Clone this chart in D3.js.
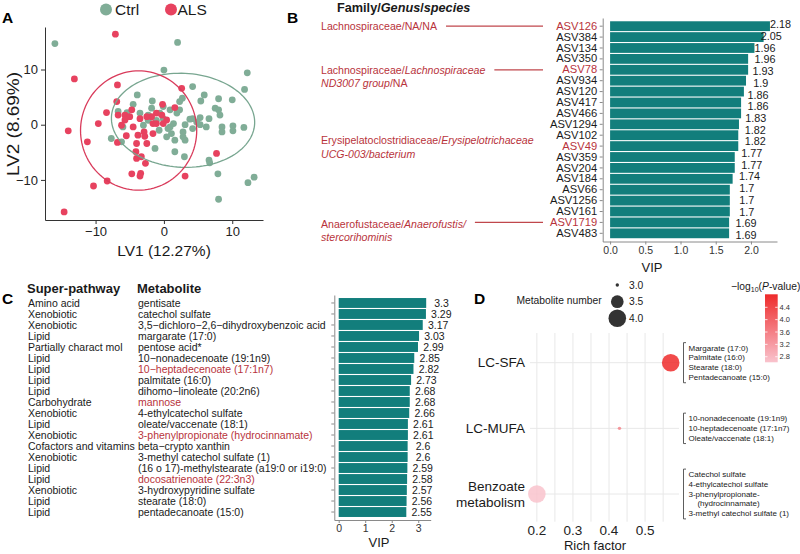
<!DOCTYPE html>
<html>
<head>
<meta charset="utf-8">
<script src="https://cdn.jsdelivr.net/npm/d3@7/dist/d3.min.js"></script>
<style>
html,body{margin:0;padding:0;background:#fff;}
svg{display:block;font-family:"Liberation Sans",Arial,Helvetica,sans-serif;}
</style>
</head>
<body>
<svg id="fig" width="800" height="554"></svg>
<script>
// ================= DATA =================
// Panel A: PLS-DA scores
const ctrlLV1 = [-15.95, 2.0, 0.0, 12.2, 11.8, 4.2, 5.9, -3.9, 2.7, 2.3, 8.0, 10.0, -1.7, 7.5, 8.0, 8.2, 6.6, 5.3, 10.1, 10.1, 8.5, 8.5, 11.7, 6.2, 5.3, 4.2, 4.2, 2.8, 2.8, 3.1, 1.6, 3.0, 6.6, 6.7, 7.9, 8.0, 12.3, 13.2, 0.6, 1.4, -0.6, -1.1, -1.8, -3.0, -6.0, -6.7, -7.7, -6.2, -1.3, 0.4, 1.1, -0.1, 1.9, 2.3, -3.5, -2.3, 0.9, 3.1, 3.8, 4.8, 1.6, -0.7, -0.1, 0.9, -2.3, -4.5, -5.4, 5.4];
const ctrlLV2 = [14.7, 14.9, 9.9, 9.4, 6.4, 6.9, 5.4, 5.4, 4.8, 4.2, 4.7, 4.5, 4.3, 3.0, 2.7, 1.75, 1.1, 1.3, -0.2, -1.1, -0.4, -1.3, -0.5, -0.4, 0.0, 1.1, -0.7, -1.3, -2.2, -2.8, -4.9, -5.8, -6.4, -6.9, -8.9, -13.5, -10.5, -9.5, -0.7, 0.2, 2.1, 0.8, 3.0, -0.1, -0.4, 2.4, -2.5, -3.1, -4.3, -2.2, -1.6, 1.1, 2.1, 2.7, 2.1, 0.8, -0.4, 0.0, 1.0, 0.5, -2.8, -1.0, 3.3, 2.7, 1.75, 3.7, 2.2, 4.3];
const alsLV1 = [-7.1, -13.1, -6.8, 2.6, -6.9, -8.4, -6.7, -5.7, -5.0, -5.7, -9.6, -14.0, -11.2, -6.8, -5.5, -3.8, -2.9, -2.8, -1.6, -2.5, -4.0, -4.1, -3.3, -2.7, -4.0, -4.7, -3.4, -3.5, -8.3, -10.3, -14.6, 3.1, 7.7, -0.2, 1.6, -1.1, -0.3, 0.4, -0.1, -1.8, -1.6, -2.5, -3.5, -4.7, -4.5, -6.2, -1.1];
const alsLV2 = [16.4, 8.3, 7.2, 6.6, 4.2, 2.2, 1.75, 1.75, 1.45, 0.85, 0.2, -1.1, -3.1, -3.2, -2.0, -1.9, -1.3, -2.1, -1.6, -3.4, -3.4, -4.9, -5.8, -7.0, -6.1, -8.9, -8.8, -9.3, -10.2, -11.1, -15.8, -9.3, -5.2, 3.7, 3.1, 2.1, 1.75, 0.85, 0.2, 1.45, 0.2, 1.45, 1.1, 2.7, -0.4, -0.1, 0.2];
const groupNames = ["Ctrl", "ALS"];
// 95% confidence ellipses (centre, semi-axes, rotation in radians)
const ellipseCX = [2.8, -3.7];
const ellipseCY = [0.8, -1.05];
const ellipseRX = [10.5, 8.5];
const ellipseRY = [8.5, 10.8];
const ellipseAngle = [-0.1, 0.0];
const axisTicksA = [-10, 0, 10];

// Panel B: ASV VIP
const asvIds = ["ASV126","ASV384","ASV134","ASV350","ASV78","ASV934","ASV120","ASV417","ASV466","ASV1294","ASV102","ASV49","ASV359","ASV204","ASV184","ASV66","ASV1256","ASV161","ASV1719","ASV483"];
const asvVIP = [2.27, 2.18, 2.05, 1.96, 1.96, 1.93, 1.9, 1.86, 1.86, 1.83, 1.82, 1.82, 1.77, 1.77, 1.74, 1.7, 1.7, 1.7, 1.69, 1.69];
const asvValueLabels = [2.18, 2.05, 1.96, 1.96, 1.93, 1.9, 1.86, 1.86, 1.83, 1.82, 1.82, 1.77, 1.77, 1.74, 1.7, 1.7, 1.7, 1.69, 1.69];
const asvHighlighted = ["ASV126","ASV78","ASV49","ASV1719"];
const taxonAsv = ["ASV126","ASV78","ASV49","ASV1719"];
// each line: array of [text, italic]
const taxonLines = [
  [[["Lachnospiraceae/NA/NA", false]]],
  [[["Lachnospiraceae/", false], ["Lachnospiraceae", true]], [["ND3007 group", true], ["/NA", false]]],
  [[["Erysipelatoclostridiaceae/", false], ["Erysipelotrichaceae", true]], [["UCG-003/bacterium", true]]],
  [[["Anaerofustaceae/", false], ["Anaerofustis/", true]], [["stercorihominis", true]]]
];
const taxonHasLeader = [true, true, false, true];
const taxonShift = [0, 0, -6, 1.5];
const vipTicksB = [0, 0.5, 1, 1.5, 2];

// Panel C: metabolite VIP
const superPathway = ["Amino acid","Xenobiotic","Xenobiotic","Lipid","Partially charact mol","Lipid","Lipid","Lipid","Lipid","Carbohydrate","Xenobiotic","Lipid","Xenobiotic","Cofactors and vitamins","Xenobiotic","Lipid","Lipid","Xenobiotic","Lipid","Lipid"];
const metabolites = ["gentisate","catechol sulfate","3,5\u2212dichloro\u22122,6\u2212dihydroxybenzoic acid","margarate (17:0)","pentose acid*","10\u2212nonadecenoate (19:1n9)","10\u2212heptadecenoate (17:1n7)","palmitate (16:0)","dihomo\u2212linoleate (20:2n6)","mannose","4-ethylcatechol sulfate","oleate/vaccenate (18:1)","3-phenylpropionate (hydrocinnamate)","beta\u2212crypto xanthin","3-methyl catechol sulfate (1)","(16 o 17)-methylstearate (a19:0 or i19:0)","docosatrienoate (22:3n3)","3-hydroxypyridine sulfate","stearate (18:0)","pentadecanoate (15:0)"];
const metaboliteVIP = [3.3, 3.29, 3.17, 3.03, 2.99, 2.85, 2.82, 2.73, 2.68, 2.68, 2.66, 2.61, 2.61, 2.6, 2.6, 2.59, 2.58, 2.57, 2.56, 2.55];
const metaboliteHighlighted = ["10\u2212heptadecenoate (17:1n7)","mannose","3-phenylpropionate (hydrocinnamate)","docosatrienoate (22:3n3)"];
const vipTicksC = [0, 1, 2, 3];

// Panel D: enrichment
const pathways = ["LC-SFA", "LC-MUFA", "Benzoate metabolism"];
const pathwayLabelLines = [["LC-SFA"], ["LC-MUFA"], ["Benzoate", "metabolism"]];
const richFactor = [0.571, 0.429, 0.2];
const metaboliteNumber = [4, 3, 4];
const negLog10P = [4.82, 3.5, 2.62];
const pathwayMembers = [
  ["Margarate (17:0)", "Palmitate (16:0)", "Stearate (18:0)", "Pentadecanoate (15:0)"],
  ["10-nonadecenoate (19:1n9)", "10-heptadecenoate (17:1n7)", "Oleate/vaccenate (18:1)"],
  ["Catechol sulfate", "4-ethylcatechol sulfate", "3-phenylpropionate-", "    (hydrocinnamate)", "3-methyl catechol sulfate (1)"]
];
const richTicks = [0.2, 0.3, 0.4, 0.5];
const richGrid = [0.2, 0.25, 0.3, 0.35, 0.4, 0.45, 0.5, 0.55];
const sizeLegendValues = [3.0, 3.5, 4.0];
const colorLegendTicks = [2.8, 3.2, 3.6, 4.0, 4.4];

// ================= STYLE =================
const GREEN = "#80ad97", RED = "#e7425f";
const GREEN_LINE = "#78a690", RED_LINE = "#d93b5b";
const TEAL = "#127e7c";
const DARKRED = "#b8333b";
const TXT = "#1a1a1a";
const AXISGRAY = "#8a8a8a";

const svg = d3.select("#fig");

// ================= PANEL A =================
const gA = svg.append("g");
const xA = d3.scaleLinear().domain([-17.4, 14.5]).range([45, 263]);
const yA = d3.scaleLinear().domain([-17.26, 17.7]).range([220, 27]);

const ptsCtrl = ctrlLV1.map((v, i) => ({x: v, y: ctrlLV2[i]}));
const ptsAls = alsLV1.map((v, i) => ({x: v, y: alsLV2[i]}));
gA.append("g").selectAll("circle").data(ptsCtrl).join("circle")
  .attr("cx", d => xA(d.x)).attr("cy", d => yA(d.y)).attr("r", 3.4).attr("fill", GREEN);
gA.append("g").selectAll("circle").data(ptsAls).join("circle")
  .attr("cx", d => xA(d.x)).attr("cy", d => yA(d.y)).attr("r", 3.4).attr("fill", RED);

const ellLine = d3.line().x(d => xA(d[0])).y(d => yA(d[1])).curve(d3.curveLinearClosed);
groupNames.forEach((g, k) => {
  const pts = d3.range(0, 120).map(i => {
    const t = i / 120 * 2 * Math.PI, c = Math.cos(ellipseAngle[k]), s = Math.sin(ellipseAngle[k]);
    const ex = ellipseRX[k] * Math.cos(t), ey = ellipseRY[k] * Math.sin(t);
    return [ellipseCX[k] + ex * c - ey * s, ellipseCY[k] + ex * s + ey * c];
  });
  gA.append("path").attr("d", ellLine(pts)).attr("fill", "none")
    .attr("stroke", k === 0 ? GREEN_LINE : RED_LINE).attr("stroke-width", 1.3);
});

const axAx = gA.append("g").attr("transform", "translate(0,220)")
  .call(d3.axisBottom(xA).tickValues(axisTicksA).tickSize(4).tickSizeOuter(0).tickPadding(3));
const axAy = gA.append("g").attr("transform", "translate(45,0)")
  .call(d3.axisLeft(yA).tickValues(axisTicksA).tickSize(4).tickSizeOuter(0).tickPadding(3));
[axAx, axAy].forEach(a => {
  a.select(".domain").attr("stroke", "#333").attr("stroke-width", 1);
  a.selectAll(".tick line").attr("stroke", "#333");
  a.selectAll(".tick text").attr("font-size", 13).attr("fill", "#222").attr("font-family", "Liberation Sans, Arial, sans-serif");
});
gA.append("text").attr("x", 164).attr("y", 250).attr("text-anchor", "middle")
  .attr("dominant-baseline", "central").attr("font-size", 15.5).attr("fill", TXT).text("LV1 (12.27%)");
gA.append("text").attr("transform", "translate(13,124) rotate(-90)").attr("text-anchor", "middle")
  .attr("dominant-baseline", "central").attr("font-size", 16).attr("fill", TXT)
  .attr("textLength", 104).attr("lengthAdjust", "spacingAndGlyphs").text("LV2 (8.69%)");
// legend
const legA = gA.append("g");
[[106, 115], [171, 177.5]].forEach((p, k) => {
  legA.append("circle").attr("cx", p[0]).attr("cy", 9.5).attr("r", 6).attr("fill", k === 0 ? GREEN : RED);
  legA.append("text").attr("x", p[1]).attr("y", 9.5).attr("dominant-baseline", "central")
    .attr("font-size", 15.5).attr("fill", TXT).text(groupNames[k]);
});
svg.append("text").attr("x", 2).attr("y", 17).attr("dominant-baseline", "central")
  .attr("font-size", 15.5).attr("font-weight", "bold").text("A");

// ================= PANEL B =================
const gB = svg.append("g");
const xB = d3.scaleLinear().domain([-0.105, 2.37]).range([602.7, 777]);
const yB = d3.scaleBand().domain(asvIds).range([18, 241.5]).paddingInner(0.1).paddingOuter(0.3);
gB.append("g").selectAll("rect").data(asvIds).join("rect")
  .attr("x", xB(0)).attr("y", d => yB(d)).attr("height", yB.bandwidth())
  .attr("width", (d, i) => xB(asvVIP[i]) - xB(0)).attr("fill", TEAL);
const yLab = d3.scalePoint().domain(d3.range(asvValueLabels.length)).range([24.3, 235]);
gB.append("g").selectAll("text").data(asvValueLabels).join("text")
  .attr("x", d => xB(d + 0.24)).attr("y", (d, i) => yLab(i)).attr("text-anchor", "middle")
  .attr("dominant-baseline", "central").attr("font-size", 10.8).attr("fill", TXT).text(d => d);
const bAxY = gB.append("g").attr("transform", "translate(602.7,0)")
  .call(d3.axisLeft(yB).tickSize(3).tickSizeOuter(0).tickPadding(2.5));
bAxY.selectAll(".tick text").attr("font-size", 11.2).attr("font-family", "Liberation Sans, Arial, sans-serif")
  .attr("fill", d => asvHighlighted.includes(d) ? DARKRED : TXT);
const bAxX = gB.append("g").attr("transform", "translate(0,241.5)")
  .call(d3.axisBottom(xB).tickValues(vipTicksB).tickFormat(d3.format(".1f")).tickSize(3).tickSizeOuter(0).tickPadding(2));
bAxX.selectAll(".tick text").attr("font-size", 10.5).attr("font-family", "Liberation Sans, Arial, sans-serif").attr("fill", "#333");
[bAxY, bAxX].forEach(a => {
  a.select(".domain").attr("stroke", AXISGRAY);
  a.selectAll(".tick line").attr("stroke", AXISGRAY);
});
gB.append("text").attr("x", 652).attr("y", 267).attr("text-anchor", "middle").attr("dominant-baseline", "central")
  .attr("font-size", 13).attr("fill", TXT).text("VIP");
// title
const tB = gB.append("text").attr("x", 337).attr("y", 7.5).attr("dominant-baseline", "central")
  .attr("font-size", 12.7).attr("font-weight", "bold").attr("fill", TXT);
tB.append("tspan").text("Family/");
tB.append("tspan").attr("font-style", "italic").text("Genus");
tB.append("tspan").text("/");
tB.append("tspan").attr("font-style", "italic").text("species");
svg.append("text").attr("x", 287).attr("y", 17).attr("dominant-baseline", "central")
  .attr("font-size", 15.5).attr("font-weight", "bold").text("B");
// taxonomy annotations
taxonAsv.forEach((asv, k) => {
  const yc = yB(asv) + yB.bandwidth() / 2 + taxonShift[k];
  let firstNode = null;
  taxonLines[k].forEach((line, li) => {
    const t = gB.append("text").attr("x", 321).attr("y", yc + li * 13.5).attr("dominant-baseline", "central")
      .attr("font-size", 10.6).attr("fill", DARKRED);
    line.forEach(seg => t.append("tspan").attr("font-style", seg[1] ? "italic" : "normal").text(seg[0]));
    if (li === 0) firstNode = t.node();
  });
  if (taxonHasLeader[k]) {
    const ends = 321 + firstNode.getComputedTextLength();
    const ly = yB(asv) + yB.bandwidth() / 2;
    gB.append("line").attr("x1", ends + 9).attr("x2", 543).attr("y1", ly).attr("y2", ly)
      .attr("stroke", "#c0474c").attr("stroke-width", 1.2);
  }
});

// ================= PANEL C =================
const gC = svg.append("g");
const xC = d3.scaleLinear().domain([-0.166, 3.47]).range([334.3, 430.7]);
const yC = d3.scaleBand().domain(d3.range(metabolites.length)).range([295, 520]).paddingInner(0.1).paddingOuter(0.275);
gC.append("g").selectAll("rect").data(metaboliteVIP).join("rect")
  .attr("x", xC(0)).attr("y", (d, i) => yC(i)).attr("height", yC.bandwidth())
  .attr("width", d => xC(d) - xC(0)).attr("fill", TEAL);
gC.append("g").selectAll("text").data(metaboliteVIP).join("text")
  .attr("x", d => xC(d + 0.58)).attr("y", (d, i) => yC(i) + yC.bandwidth() / 2)
  .attr("text-anchor", "middle").attr("dominant-baseline", "central")
  .attr("font-size", 10.5).attr("fill", TXT).text(d => d);
gC.append("g").selectAll("text").data(superPathway).join("text")
  .attr("x", 28).attr("y", (d, i) => yC(i) + yC.bandwidth() / 2).attr("dominant-baseline", "central")
  .attr("font-size", 10.5).attr("fill", TXT).text(d => d);
gC.append("g").selectAll("text").data(metabolites).join("text")
  .attr("x", 138).attr("y", (d, i) => yC(i) + yC.bandwidth() / 2).attr("dominant-baseline", "central")
  .attr("font-size", 10.5).attr("fill", d => metaboliteHighlighted.includes(d) ? DARKRED : TXT).text(d => d);
const cAxY = gC.append("g").attr("transform", "translate(334.3,0)")
  .call(d3.axisLeft(yC).tickSize(3).tickSizeOuter(0).tickFormat(""));
const cAxX = gC.append("g").attr("transform", "translate(0,520)")
  .call(d3.axisBottom(xC).tickValues(vipTicksC).tickFormat(d3.format("d")).tickSize(3).tickSizeOuter(0).tickPadding(2));
cAxX.selectAll(".tick text").attr("font-size", 10.5).attr("font-family", "Liberation Sans, Arial, sans-serif").attr("fill", "#333");
[cAxY, cAxX].forEach(a => {
  a.select(".domain").attr("stroke", AXISGRAY);
  a.selectAll(".tick line").attr("stroke", AXISGRAY);
});
gC.append("text").attr("x", 379).attr("y", 542).attr("text-anchor", "middle").attr("dominant-baseline", "central")
  .attr("font-size", 13).attr("fill", TXT).text("VIP");
gC.append("text").attr("x", 27).attr("y", 288).attr("dominant-baseline", "central")
  .attr("font-size", 13).attr("font-weight", "bold").attr("fill", TXT).text("Super-pathway");
gC.append("text").attr("x", 137).attr("y", 288).attr("dominant-baseline", "central")
  .attr("font-size", 13).attr("font-weight", "bold").attr("fill", TXT).text("Metabolite");
svg.append("text").attr("x", 2).attr("y", 298).attr("dominant-baseline", "central")
  .attr("font-size", 15.5).attr("font-weight", "bold").text("C");

// ================= PANEL D =================
const gD = svg.append("g");
const xD = d3.scaleLinear().domain([0.181, 0.594]).range([530, 679]);
const yD = d3.scalePoint().domain(pathways).range([362.7, 494]);
const rArea = d3.scaleLinear().domain([3, 4]).range([1.7 * 1.7, 8.8 * 8.8]);
const rD = v => Math.sqrt(rArea(v));
const colD = d3.scaleLinear().domain([2.62, 4.82]).range(["#f9c3cd", "#ee2b2b"]);

gD.append("g").selectAll("line").data(richGrid).join("line")
  .attr("x1", d => xD(d)).attr("x2", d => xD(d)).attr("y1", 333).attr("y2", 521.7)
  .attr("stroke", "#e8e8e8").attr("stroke-width", 1);
gD.append("g").selectAll("line").data(pathways).join("line")
  .attr("x1", 530).attr("x2", 679).attr("y1", d => yD(d)).attr("y2", d => yD(d))
  .attr("stroke", "#e8e8e8").attr("stroke-width", 1);
gD.append("g").selectAll("circle").data(pathways).join("circle")
  .attr("cx", (d, i) => xD(richFactor[i])).attr("cy", d => yD(d))
  .attr("r", (d, i) => rD(metaboliteNumber[i])).attr("fill", (d, i) => colD(negLog10P[i])).attr("fill-opacity", 0.85);
// y labels
pathways.forEach((p, k) => {
  const lines = pathwayLabelLines[k];
  lines.forEach((ln, li) => {
    gD.append("text").attr("x", 525).attr("y", yD(p) + (li - (lines.length - 1) / 2) * 16)
      .attr("text-anchor", "end").attr("dominant-baseline", "central")
      .attr("font-size", 13.5).attr("fill", TXT).text(ln);
  });
});
// x ticks
gD.append("g").selectAll("text").data(richTicks).join("text")
  .attr("x", d => xD(d)).attr("y", 530).attr("text-anchor", "middle").attr("dominant-baseline", "central")
  .attr("font-size", 13.5).attr("fill", "#222").text(d => d3.format(".1f")(d));
gD.append("text").attr("x", 595).attr("y", 545).attr("text-anchor", "middle").attr("dominant-baseline", "central")
  .attr("font-size", 13).attr("fill", TXT).text("Rich factor");
// member annotations with brackets
pathways.forEach((p, k) => {
  const mem = pathwayMembers[k];
  const yc = yD(p), sp = 9.7;
  const top = yc - (mem.length - 1) / 2 * sp - 5.5, bot = yc + (mem.length - 1) / 2 * sp + 5.5;
  gD.append("path").attr("d", `M686,${top}H683.5V${bot}H686`).attr("fill", "none").attr("stroke", "#333").attr("stroke-width", 0.8);
  mem.forEach((m, mi) => {
    gD.append("text").attr("x", 688.5).attr("y", yc + (mi - (mem.length - 1) / 2) * sp)
      .attr("dominant-baseline", "central").attr("font-size", 8).attr("fill", TXT)
      .style("white-space", "pre").attr("xml:space", "preserve").text(m);
  });
});
// size legend
gD.append("text").attr("x", 601.7).attr("y", 300).attr("text-anchor", "end").attr("dominant-baseline", "central")
  .attr("font-size", 10.3).attr("fill", TXT).text("Metabolite number");
const sizeLegY = d3.scalePoint().domain(sizeLegendValues).range([285, 318.3]);
sizeLegendValues.forEach(v => {
  gD.append("circle").attr("cx", 617.3).attr("cy", sizeLegY(v)).attr("r", rD(v)).attr("fill", "#333");
  gD.append("text").attr("x", 629).attr("y", sizeLegY(v)).attr("dominant-baseline", "central")
    .attr("font-size", 10.3).attr("fill", TXT).text(d3.format(".1f")(v));
});
// colour legend
const defs = svg.append("defs");
const grad = defs.append("linearGradient").attr("id", "pgrad").attr("x1", 0).attr("x2", 0).attr("y1", 1).attr("y2", 0);
d3.range(0, 1.01, 0.1).forEach(t => {
  grad.append("stop").attr("offset", t).attr("stop-color", colD(2.62 + t * 2.2));
});
const cbY = d3.scaleLinear().domain([2.62, 4.82]).range([362.3, 294.3]);
gD.append("rect").attr("x", 765).attr("y", cbY(4.82)).attr("width", 12.7).attr("height", cbY(2.62) - cbY(4.82)).attr("fill", "url(#pgrad)");
colorLegendTicks.forEach(v => {
  gD.append("line").attr("x1", 765).attr("x2", 767.5).attr("y1", cbY(v)).attr("y2", cbY(v)).attr("stroke", "#fff").attr("stroke-width", 0.8);
  gD.append("line").attr("x1", 775.2).attr("x2", 777.7).attr("y1", cbY(v)).attr("y2", cbY(v)).attr("stroke", "#fff").attr("stroke-width", 0.8);
  gD.append("text").attr("x", 779.5).attr("y", cbY(v)).attr("dominant-baseline", "central")
    .attr("font-size", 7.5).attr("fill", "#333").text(d3.format(".1f")(v));
});
const ct = gD.append("text").attr("x", 731).attr("y", 286).attr("dominant-baseline", "central")
  .attr("font-size", 10.3).attr("fill", TXT);
ct.append("tspan").text("\u2212log");
ct.append("tspan").attr("font-size", 7).attr("dy", 3).text("10");
ct.append("tspan").attr("dy", -3).text("(");
ct.append("tspan").attr("font-style", "italic").text("P");
ct.append("tspan").text("-value)");
svg.append("text").attr("x", 474).attr("y", 298).attr("dominant-baseline", "central")
  .attr("font-size", 15.5).attr("font-weight", "bold").text("D");
</script>
</body>
</html>
